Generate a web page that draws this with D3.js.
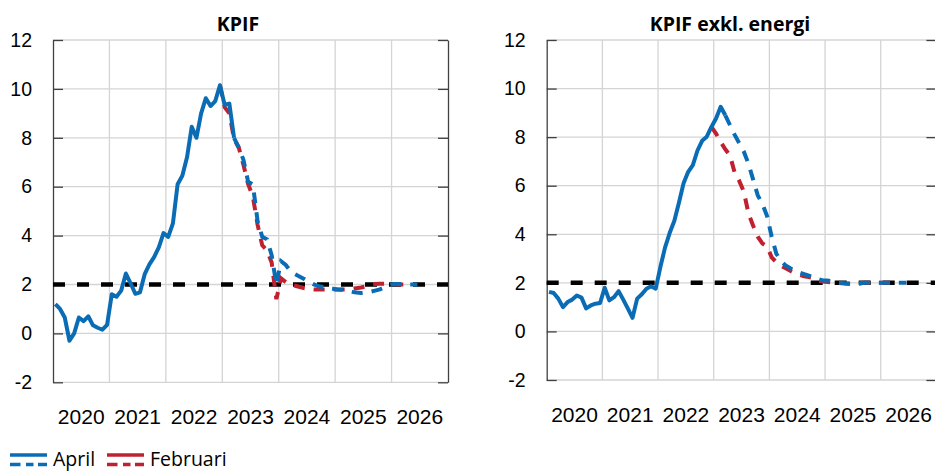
<!DOCTYPE html>
<html>
<head>
<meta charset="utf-8">
<script src="https://cdn.jsdelivr.net/npm/d3@7"></script>
<style>
  body { margin: 0; background: #fff; }
  svg { display: block; font-family: "Open Sans", sans-serif; }
  .grid line { stroke: #d4d4d4; stroke-width: 1.3; }
  .axis path, .axis line { stroke: #404040; stroke-width: 1.3; }
  .axis text { fill: #000; }
</style>
</head>
<body>
<div class="chart"></div>
<script>
// month index 0 = Jan 2020
const years = ["2020", "2021", "2022", "2023", "2024", "2025", "2026"]
const yTicks = [-2, 0, 2, 4, 6, 8, 10, 12]
const target = 2

// KPIF, outcome Jan 2020 - Mar 2023
const kpifOutcome = [1.2, 1.0, 0.65, -0.3, 0.0, 0.65, 0.5, 0.7, 0.33, 0.23, 0.15, 0.35,
  1.6, 1.5, 1.75, 2.45, 2.05, 1.62, 1.68, 2.42, 2.82, 3.12, 3.52, 4.1,
  3.95, 4.5, 6.1, 6.45, 7.2, 8.45, 8.0, 9.0, 9.62, 9.3, 9.5, 10.15,
  9.35, 9.4, 8.0]
// KPIF, April forecast Mar 2023 - Jun 2026
const kpifApril = [8.0, 7.6, 7.1, 6.2, 6.1, 4.6, 3.95, 3.85, 3.2, 2.0,
  2.95, 2.8, 2.55, 2.42, 2.32, 2.22, 2.1, 2.0, 1.93, 1.9, 1.86, 1.83,
  1.8, 1.79, 1.75, 1.7, 1.67, 1.65, 1.67, 1.7, 1.75, 1.8, 1.88, 1.97,
  2.02, 2.02, 2.0, 2.0, 2.0, 2.0]
// KPIF, February forecast Dec 2022 - Mar 2026
const kpifFeb = [10.15, 9.25, 9.0, 7.95, 7.6, 6.9, 6.1, 5.6, 4.45, 3.6, 3.4, 2.9, 1.4,
  2.25, 2.1, 2.0, 1.95, 1.9, 1.85, 1.82, 1.8, 1.8, 1.8, 1.8, 1.8, 1.8,
  1.8, 1.8, 1.82, 1.85, 1.88, 1.92, 1.97, 2.02, 2.03, 2.03, 2.03, 2.02, 2.0, 2.0]

// KPIF exkl. energi
const exOutcome = [1.63, 1.58, 1.35, 1.0, 1.21, 1.31, 1.48, 1.39, 0.95, 1.07, 1.14, 1.17,
  1.8, 1.28, 1.41, 1.66, 1.31, 0.94, 0.56, 1.35, 1.53, 1.76, 1.86, 1.76,
  2.65, 3.45, 4.05, 4.55, 5.3, 6.1, 6.57, 6.85, 7.45, 7.85, 8.02, 8.42,
  8.77, 9.25, 8.9]
const exApril = [8.9, 8.5, 8.1, 7.75, 7.4, 6.9, 6.25, 5.6, 5.25, 4.75,
  3.9, 3.2, 2.9, 2.72, 2.6, 2.5, 2.42, 2.36, 2.3, 2.22, 2.15, 2.1,
  2.1, 2.07, 2.03, 2.0, 1.97, 1.95, 1.95, 1.97, 2.0,
  2.0, 2.0, 2.0, 2.0, 2.0, 2.0, 2.0, 2.0, 2.0]
const exFeb = [8.42, 8.15, 7.8, 7.5, 7.25, 6.55, 6.2, 5.75, 4.85, 4.35, 3.9, 3.62, 3.5,
  3.05, 2.85, 2.7, 2.6, 2.5, 2.4, 2.33, 2.27, 2.24, 2.2, 2.1, 2.05, 2.03,
  2.02, 2.0, 1.98, 1.97, 1.97, 1.97, 1.98, 2.0,
  2.0, 2.0, 2.0, 2.0, 2.0, 2.0]

const blue = "#0a6cb5"
const red = "#c0202f"

const svg = d3.select(".chart")
    .append("svg")
    .attr("width", 935)
    .attr("height", 471)

const panels = [
  {title: "KPIF", titleX: 238, left: 53, right: 448, top: 40, bottom: 382.3,
   outcome: kpifOutcome, april: kpifApril, feb: kpifFeb},
  {title: "KPIF exkl. energi", titleX: 730, left: 546.7, right: 936.4, top: 40, bottom: 380,
   outcome: exOutcome, april: exApril, feb: exFeb}
]

const toPoints = (values, start) => values.map((v, i) => ({m: start + i, v: v}))

panels.forEach(p => {
  const x = d3.scaleLinear().domain([0, 84]).range([p.left, p.right])
  const y = d3.scaleLinear().domain([-2, 12]).range([p.bottom, p.top])
  const xBand = d3.scaleBand().domain(years).range([p.left, p.right])

  const g = svg.append("g")

  // gridlines
  const grid = g.append("g").attr("class", "grid")
  grid.selectAll(".h")
      .data(yTicks)
      .enter().append("line")
      .attr("x1", p.left).attr("x2", p.right)
      .attr("y1", d => y(d)).attr("y2", d => y(d))
  grid.selectAll(".v")
      .data(d3.range(12, 84, 12))
      .enter().append("line")
      .attr("x1", d => x(d)).attr("x2", d => x(d))
      .attr("y1", p.top).attr("y2", p.bottom)

  // axes
  g.append("g")
      .attr("class", "axis")
      .attr("transform", `translate(${p.left}, 0)`)
      .call(d3.axisLeft(y).tickValues(yTicks).tickSizeInner(-10).tickSizeOuter(0).tickPadding(21)
          .tickFormat(d => String(d)))
      .call(a => a.selectAll("text").style("font-size", "19.5px"))
  g.append("g")
      .attr("class", "axis")
      .attr("transform", `translate(${p.right}, 0)`)
      .call(d3.axisRight(y).tickValues(yTicks).tickSizeInner(-10).tickSizeOuter(0).tickFormat(""))
  g.append("g")
      .attr("class", "axis x-axis")
      .attr("transform", `translate(0, ${p.bottom})`)
      .call(d3.axisBottom(xBand).tickSize(0).tickPadding(27))
      .call(a => a.select(".domain").remove())
      .call(a => a.selectAll("text").style("font-size", "21px"))

  // 2 % target
  g.append("line")
      .attr("x1", p.left).attr("x2", p.right)
      .attr("y1", y(target)).attr("y2", y(target))
      .attr("stroke", "#000")
      .attr("stroke-width", 4.5)
      .attr("stroke-dasharray", "12,12")

  const line = d3.line()
      .x(d => x(d.m + 0.5))
      .y(d => y(d.v))

  g.append("path")
      .datum(toPoints(p.feb, 35))
      .attr("d", line)
      .attr("fill", "none")
      .attr("stroke", red)
      .attr("stroke-width", 4)
      .attr("stroke-dasharray", "11,9")

  g.append("path")
      .datum(toPoints(p.april, 38))
      .attr("d", line)
      .attr("fill", "none")
      .attr("stroke", blue)
      .attr("stroke-width", 4)
      .attr("stroke-dasharray", "11,9")

  g.append("path")
      .datum(toPoints(p.outcome, 0))
      .attr("d", line)
      .attr("fill", "none")
      .attr("stroke", blue)
      .attr("stroke-width", 4)
      .attr("stroke-linejoin", "round")

  g.append("text")
      .attr("x", p.titleX)
      .attr("y", 31)
      .attr("text-anchor", "middle")
      .style("font-size", "19.5px")
      .style("font-weight", "bold")
      .text(p.title)
})

// legend
const legend = svg.append("g")
const items = [{name: "April", color: blue, x: 10, tx: 53}, {name: "Februari", color: red, x: 107, tx: 150}]
items.forEach(it => {
  legend.append("line")
      .attr("x1", it.x).attr("x2", it.x + 37)
      .attr("y1", 455).attr("y2", 455)
      .attr("stroke", it.color).attr("stroke-width", 3.5)
  legend.append("line")
      .attr("x1", it.x).attr("x2", it.x + 37)
      .attr("y1", 464.5).attr("y2", 464.5)
      .attr("stroke", it.color).attr("stroke-width", 3.5)
      .attr("stroke-dasharray", "10.5,5.5,7.5,4.5,10")
  legend.append("text")
      .attr("x", it.tx)
      .attr("y", 466)
      .style("font-size", "19.5px")
      .text(it.name)
})
</script>
</body>
</html>
